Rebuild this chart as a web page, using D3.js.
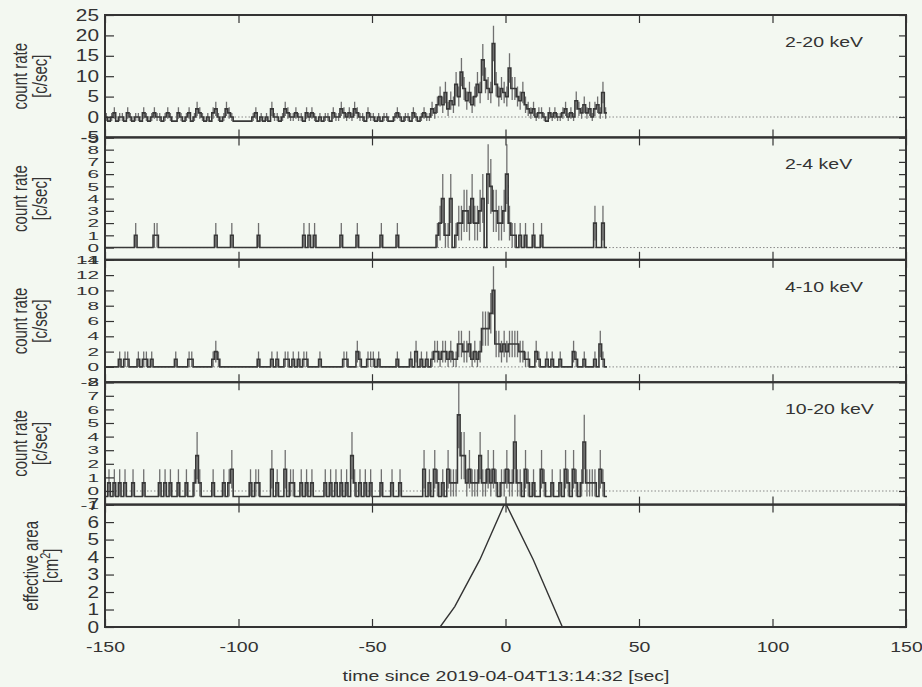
<!DOCTYPE html>
<html>
<head>
<meta charset="utf-8">
<script src="https://cdn.jsdelivr.net/npm/d3@7"></script>
<style>
  body { margin: 0; background: #f3f8f1; }
  svg { display: block; }
  text { font-family: "Liberation Sans", Arial, Helvetica, sans-serif; fill: #333; }
</style>
</head>
<body>
<svg id="chart" width="922" height="687"></svg>
<script>
const W = 922, H = 687
const LEFT = 105, RIGHT = 906, TOP = 15, BOTTOM = 627
const SX = 1.3   // the reference text is stretched sideways

// 1 s bins starting at t = -150, last bin starts at 37
const T_START = -150
const N_BIN = 188

// 2-20 keV counts per bin (dense, read row by row, 10 s per row)
const counts2to20 = [
  1,0,1,2,0,1,1,0,2,1,
  0,1,1,0,2,1,0,1,2,1,
  1,0,1,2,1,0,0,2,1,0,
  1,2,0,1,3,2,1,0,1,0,
  2,3,1,0,1,3,2,1,0,0,
  0,0,0,0,0,1,2,0,1,0,
  1,0,3,1,1,0,1,3,2,1,
  1,2,1,1,0,2,1,2,1,0,
  1,0,1,1,0,2,1,1,3,2,
  1,2,1,3,2,1,1,0,2,1,
  1,0,1,0,1,1,0,0,1,2,
  1,0,1,1,0,2,1,0,1,2,
  1,1,3,2,4,6,4,7,3,5,
  4,9,6,12,8,5,7,4,6,9,
  7,15,10,8,7,19,9,6,8,7,
  6,13,8,8,6,5,7,4,3,2,
  3,1,2,2,1,0,2,1,2,1,
  1,2,3,1,2,1,5,3,2,4,
  2,3,1,3,4,2,7,2
]

// sparse bands: [bin start time, counts]
const counts2to4 = [
  [-139,1],[-132,1],[-131,1],[-109,1],[-103,1],[-93,1],[-76,1],[-74,1],[-72,1],
  [-62,1],[-56,1],[-47,1],[-41,1],
  [-26,1],[-25,2],[-24,4],[-23,1],[-22,1],[-21,4],[-19,1],[-18,2],[-17,2],[-16,3],
  [-15,3],[-14,2],[-13,4],[-12,2],[-11,2],[-10,3],[-9,4],[-7,6],[-6,5],[-5,3],
  [-4,3],[-3,2],[-2,2],[-1,3],[0,6],[1,2],[2,1],[3,1],[5,1],[7,1],[10,1],[13,1],
  [33,2],[36,2]
]

const counts4to10 = [
  [-145,1],[-143,1],[-142,1],[-138,1],[-136,1],[-135,1],[-133,1],[-124,1],[-119,1],
  [-118,1],[-110,1],[-109,2],[-108,1],[-93,1],[-88,1],[-86,1],[-83,1],[-82,1],
  [-80,1],[-78,1],[-76,1],[-75,1],[-70,1],[-61,1],[-60,1],[-56,2],[-55,1],[-52,1],
  [-51,1],[-50,1],[-48,1],[-41,1],[-36,1],[-34,2],[-32,1],[-30,1],[-28,1],
  [-27,2],[-26,2],[-25,1],[-24,2],[-23,2],[-22,1],[-21,2],[-20,1],[-19,1],[-18,3],
  [-17,3],[-16,2],[-15,2],[-14,3],[-13,1],[-12,2],[-11,1],[-10,2],[-9,5],[-8,5],
  [-7,5],[-6,7],[-5,10],[-4,3],[-3,3],[-2,2],[-1,3],[0,2],[1,3],[2,3],[3,3],[4,3],
  [5,2],[6,2],[7,1],[8,1],[11,2],[12,1],[15,1],[17,1],[20,1],[25,2],[26,1],[29,1],
  [33,1],[35,3],[36,1]
]

const counts10to20 = [
  [-149,1],[-147,1],[-145,1],[-143,1],[-140,1],[-136,1],[-130,1],[-128,1],[-126,1],
  [-123,1],[-120,1],[-117,1],[-116,3],[-115,1],[-110,1],[-106,1],[-104,1],[-103,2],
  [-96,1],[-94,1],[-93,1],[-88,2],[-86,1],[-83,2],[-81,1],[-80,1],[-77,1],[-75,1],
  [-73,1],[-68,1],[-66,1],[-64,1],[-62,1],[-60,1],[-58,3],[-57,1],[-55,1],[-53,1],
  [-51,1],[-47,1],[-43,1],[-40,1],
  [-31,2],[-29,1],[-27,2],[-26,1],[-24,1],[-22,2],[-21,1],[-20,1],[-19,1],[-18,6],
  [-17,3],[-16,3],[-15,1],[-14,2],[-13,1],[-12,1],[-11,1],[-10,3],[-9,1],[-8,1],
  [-7,2],[-6,1],[-5,2],[-4,1],[-2,1],[-1,1],[0,2],[1,1],[2,1],[3,4],[4,1],[5,1],
  [7,2],[8,1],[10,1],[13,2],[14,1],[17,1],[20,1],[22,2],[23,1],[25,2],[26,1],
  [28,1],[29,4],[30,1],[31,1],[32,1],[33,1],[35,2],[36,1]
]

const bkgRate = [1.0, 0, 0, 0.4]
const bandLabels = ['2-20 keV', '2-4 keV', '4-10 keV', '10-20 keV']

// effective area curve
const areaTime = [-150, -24.5, -19, -9.6, -0.5, 0.3, 10.4, 21.3, 150]
const areaValue = [0, 0, 1.17, 3.85, 7, 7, 3.85, 0, 0]

const yDomains = [[-5, 25], [-1, 9], [-2, 14], [-1, 8], [0, 7]]
const yStep = [5, 1, 2, 1, 1]
const yLabelSquash = [1, 0.72, 0.72, 0.72, 1]
const xTicks = [-150, -100, -50, 0, 50, 100, 150]

function dense(sparse) {
  const a = new Array(N_BIN).fill(0)
  sparse.forEach(([t, c]) => { a[t - T_START] = c })
  return a
}

const bands = [counts2to20, dense(counts2to4), dense(counts4to10), dense(counts10to20)]
const plain = d => String(d)   // hyphen minus, like the reference

const svg = d3.select('#chart')
const x = d3.scaleLinear().domain([-150, 150]).range([LEFT, RIGHT])
const PH = (BOTTOM - TOP) / 5

for (let p = 0; p < 5; p++) {
  const top = TOP + p * PH
  const y = d3.scaleLinear().domain(yDomains[p]).range([top + PH, top])
  const g = svg.append('g')

  g.append('clipPath').attr('id', 'clip' + p)
    .append('rect').attr('x', LEFT).attr('y', top).attr('width', RIGHT - LEFT).attr('height', PH)
  const plot = g.append('g').attr('clip-path', 'url(#clip' + p + ')')

  if (p < 4) {
    // dotted zero line
    plot.append('line')
      .attr('x1', LEFT).attr('x2', RIGHT).attr('y1', y(0)).attr('y2', y(0))
      .attr('stroke', '#8a8a8a').attr('stroke-width', 1).attr('stroke-dasharray', '1.5,2')

    const bins = bands[p].map((c, i) => ({
      t: T_START + i, v: c - bkgRate[p], e: Math.sqrt(c)
    }))

    plot.selectAll('line.err')
      .data(bins.filter(d => d.e > 0))
      .enter().append('line')
      .attr('class', 'err')
      .attr('x1', d => x(d.t + 0.5)).attr('x2', d => x(d.t + 0.5))
      .attr('y1', d => y(d.v - d.e)).attr('y2', d => y(d.v + d.e))
      .attr('stroke', '#707070').attr('stroke-width', 1.3)

    const pts = bins.map(d => [d.t, d.v])
    pts.push([T_START + N_BIN, bins[N_BIN - 1].v])
    plot.append('path')
      .attr('d', d3.line().x(d => x(d[0])).y(d => y(d[1])).curve(d3.curveStepAfter)(pts))
      .attr('fill', 'none').attr('stroke', '#383838').attr('stroke-width', 1.6)

    g.append('text')
      .attr('transform', `translate(785,${top + 32}) scale(${SX},1)`)
      .attr('font-size', 15)
      .text(bandLabels[p])
  } else {
    const pts = areaTime.map((t, i) => [t, areaValue[i]])
    plot.append('path')
      .attr('d', d3.line().x(d => x(d[0])).y(d => y(d[1]))(pts))
      .attr('fill', 'none').attr('stroke', '#333').attr('stroke-width', 1.4)
  }

  // y axes
  const ticks = d3.range(yDomains[p][0], yDomains[p][1] + 0.001, yStep[p])
  const left = g.append('g').attr('transform', `translate(${LEFT},0)`)
    .call(d3.axisLeft(y).tickValues(ticks).tickSizeInner(-9).tickSizeOuter(0).tickFormat(plain))
  left.select('.domain').remove()
  left.selectAll('text')
    .attr('x', 0)
    .attr('transform', `translate(-6,0) scale(${SX},${yLabelSquash[p]})`)
    .attr('font-size', 16)
    .attr('font-family', '"Liberation Sans", Arial, sans-serif')
    .attr('fill', '#333')
  const right = g.append('g').attr('transform', `translate(${RIGHT},0)`)
    .call(d3.axisRight(y).tickValues(ticks).tickSizeInner(-7).tickSizeOuter(0).tickFormat(''))
  right.select('.domain').remove()

  // x axes on top and bottom edge of every panel
  const topAx = g.append('g').attr('transform', `translate(0,${top})`)
    .call(d3.axisTop(x).tickValues(xTicks).tickSizeInner(-8).tickSizeOuter(0).tickFormat(''))
  topAx.select('.domain').remove()
  const botAx = g.append('g').attr('transform', `translate(0,${top + PH})`)
    .call(d3.axisBottom(x).tickValues(xTicks).tickSizeInner(-8).tickSizeOuter(0)
      .tickFormat(p === 4 ? plain : ''))
  botAx.select('.domain').remove()
  botAx.selectAll('text')
    .attr('y', 0)
    .attr('transform', `translate(0,14) scale(${SX},1)`)
    .attr('font-size', 15)
    .attr('font-family', '"Liberation Sans", Arial, sans-serif')
    .attr('fill', '#333')
  g.selectAll('.tick line').attr('stroke', '#333').attr('stroke-width', 1.2)

  g.append('rect')
    .attr('x', LEFT).attr('y', top).attr('width', RIGHT - LEFT).attr('height', PH)
    .attr('fill', 'none').attr('stroke', '#333').attr('stroke-width', 2)

  // y titles
  const cy = top + PH / 2
  const l1 = p < 4 ? 'count rate' : 'effective area'
  const x1 = p < 4 ? 27 : 38
  const x2 = p < 4 ? 47 : 58
  g.append('text')
    .attr('transform', `translate(${x1},${cy}) scale(${SX},1) rotate(-90)`)
    .attr('text-anchor', 'middle').attr('font-size', 15)
    .text(l1)
  const t2 = g.append('text')
    .attr('transform', `translate(${x2},${cy}) scale(${SX},1) rotate(-90)`)
    .attr('text-anchor', 'middle').attr('font-size', 15)
  if (p < 4) {
    t2.text('[c/sec]')
  } else {
    t2.append('tspan').text('[cm')
    t2.append('tspan').attr('baseline-shift', 'super').attr('font-size', 11).text('2')
    t2.append('tspan').text(']')
  }
}

svg.append('text')
  .attr('transform', `translate(506,681) scale(${SX},1)`)
  .attr('text-anchor', 'middle').attr('font-size', 15)
  .text('time since 2019-04-04T13:14:32 [sec]')
</script>
</body>
</html>
